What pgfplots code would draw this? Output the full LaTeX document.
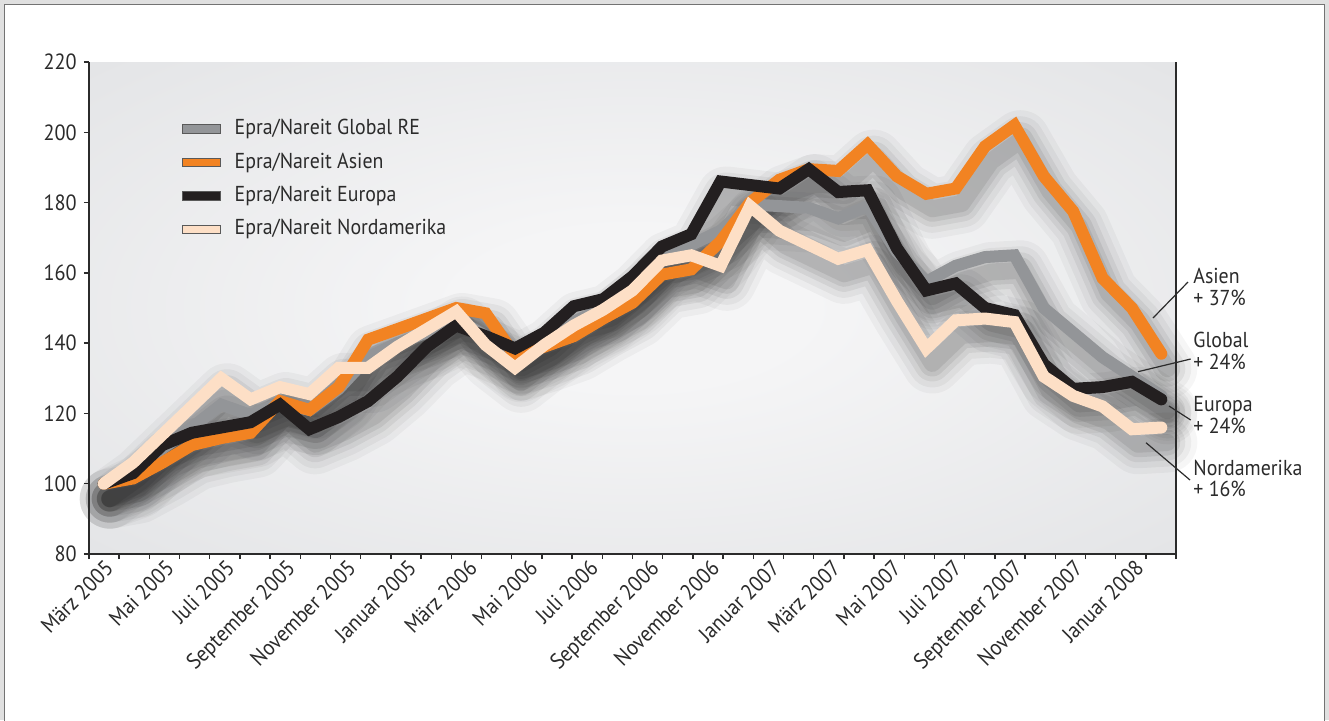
\documentclass[border=0pt]{standalone}
\usepackage{pgfplots}
\pgfplotsset{compat=1.18}
\usepackage{pgfplotstable}
\usepackage{fontspec}
\setmainfont{PT Sans}[FakeStretch=0.92]
\definecolor{cGlobal}{HTML}{939598}
\definecolor{cAsien}{HTML}{F28322}
\definecolor{cEuropa}{HTML}{231F20}
\definecolor{cNord}{HTML}{FDDFC6}
\definecolor{txt}{HTML}{2B2B2B}
\definecolor{bgin}{HTML}{F5F5F6}
\definecolor{bgmid}{HTML}{E4E5E7}
\definecolor{bgout}{HTML}{D8D9DB}
\pgfdeclareradialshading{bgshade}{\pgfpoint{0bp}{0bp}}{color(0bp)=(bgin); color(8bp)=(bgin); color(35bp)=(bgmid); color(55bp)=(bgout); color(75bp)=(bgout)}

% x = month index (0 = Maerz 2005), v = index value
\pgfplotstableread{
j v
0 100
1 104
2 110
3 116
4 122.5
5 119.5
6 123
7 121
8 127
9 136
10 140
11 143
12 147
13 142
14 136
15 140
16 146
17 150
18 157
19 164
20 168
21 172
22 179.5
23 179
24 178.5
25 175.5
26 179
27 166
28 157.5
29 162
30 164.5
31 165
32 150
33 143
34 136
35 130.5
36 125
}\tGlobal
\pgfplotstableread{
j v
0 100
1 101.5
2 106
3 111
4 113
5 114.5
6 123.5
7 121
8 127.5
9 141
10 144
11 147
12 150
13 148.5
14 136.5
15 139
16 142
17 147
18 151.5
19 159.5
20 161
21 169
22 180
23 186.5
24 189.5
25 189
26 196.5
27 187.5
28 182.5
29 184
30 196
31 202
32 187.5
33 177.5
34 158.5
35 150
36 137
}\tAsien
\pgfplotstableread{
j v
0 100
1 103
2 111
3 114.5
4 116
5 117.5
6 122.5
7 115.5
8 119
9 123.5
10 130.5
11 139
12 145
13 142
14 138.5
15 143
16 150.5
17 152.5
18 159
19 167.5
20 171
21 186
22 185
23 184
24 189.5
25 183
26 183.5
27 167
28 155
29 157
30 150
31 148
32 134
33 127
34 127.5
35 129
36 124
}\tEuropa
\pgfplotstableread{
j v
0 100
1 106
2 114
3 122
4 130
5 124
6 127.5
7 125.5
8 133
9 133
10 139
11 144
12 149
13 139.5
14 133
15 139.5
16 145
17 149.5
18 155
19 163.5
20 165
21 162
22 179
23 172
24 168
25 164
26 166.5
27 152
28 138.5
29 146.5
30 147
31 146
32 130.5
33 125
34 122
35 115.5
36 116
}\tNord

\pgfplotsset{
  shbase/.style={draw=black, xshift=3pt, yshift=-7.5pt, line cap=round, line join=round, forget plot},
  shA/.style={shbase, opacity=0.035, line width=30pt},
  shB/.style={shbase, opacity=0.045, line width=24pt},
  shC/.style={shbase, opacity=0.06, line width=18pt},
  shD/.style={shbase, opacity=0.07, line width=13pt},
  shE/.style={shbase, opacity=0.08, line width=8.5pt},
  mainline/.style={line width=6pt, line cap=round, line join=miter, miter limit=4},
}

\begin{document}
\begin{tikzpicture}
\begin{scope}[x=0.5pt,y=-0.5pt]
\path[use as bounding box] (0,0) rectangle (1329,720);
\fill[black!12] (0,0) rectangle (1329,720);
\filldraw[fill=white, draw=black!55, line width=0.75pt] (4.5,4.5) rectangle (1324.5,740);
\end{scope}
\begin{axis}[
  at={(44.5pt,-277pt)}, anchor=south west,
  scale only axis, width=543.5pt, height=246pt,
  xmin=-0.5, xmax=36.5, ymin=80, ymax=220,
  clip=false,
  axis line style={draw=none},
  axis background/.style={shade, shading=bgshade},
  tick pos=left, tick align=outside,
  major tick length=2.6pt,
  tick style={draw=txt, line width=0.7pt},
  ytick={80,100,...,220},
  xtick={-0.5,0.527777,...,36.51},
  xticklabels={},
  extra x ticks={0,2.0625,...,35.1},
  extra x tick labels={März 2005,Mai 2005,Juli 2005,September 2005,November 2005,Januar 2005,März 2006,Mai 2006,Juli 2006,September 2006,November 2006,Januar 2007,März 2007,Mai 2007,Juli 2007,September 2007,November 2007,Januar 2008},
  extra x tick style={major tick length=0pt, tick label style={rotate=45, anchor=north east, inner sep=1.5pt}},
  /pgf/number format/assume math mode=true,
  tick label style={font=\fontsize{11}{12}\selectfont, text=txt},
  legend style={at={(0.0853,0.7618)}, anchor=west, draw=none, fill=none,
    font=\fontsize{10.8}{12}\selectfont, text=txt, inner sep=0pt, outer sep=0pt,
    row sep=6.2pt, column sep=7pt,
    nodes={inner sep=0pt, text height=8pt, text depth=2.5pt}},
  legend cell align=left,
  legend image code/.code={\filldraw[#1, line width=0.5pt, draw=black!65, line join=miter] (0pt,-2.1pt) rectangle (19pt,2.1pt);},
]
% soft shadows
\addplot[shA] table[x=j,y=v] {\tGlobal};
\addplot[shA] table[x=j,y=v] {\tAsien};
\addplot[shA] table[x=j,y=v] {\tEuropa};
\addplot[shA] table[x=j,y=v] {\tNord};
\addplot[shB] table[x=j,y=v] {\tGlobal};
\addplot[shB] table[x=j,y=v] {\tAsien};
\addplot[shB] table[x=j,y=v] {\tEuropa};
\addplot[shB] table[x=j,y=v] {\tNord};
\addplot[shC] table[x=j,y=v] {\tGlobal};
\addplot[shC] table[x=j,y=v] {\tAsien};
\addplot[shC] table[x=j,y=v] {\tEuropa};
\addplot[shC] table[x=j,y=v] {\tNord};
\addplot[shD] table[x=j,y=v] {\tGlobal};
\addplot[shD] table[x=j,y=v] {\tAsien};
\addplot[shD] table[x=j,y=v] {\tEuropa};
\addplot[shD] table[x=j,y=v] {\tNord};
\addplot[shE] table[x=j,y=v] {\tGlobal};
\addplot[shE] table[x=j,y=v] {\tAsien};
\addplot[shE] table[x=j,y=v] {\tEuropa};
\addplot[shE] table[x=j,y=v] {\tNord};
% lines
\addplot[mainline, color=cGlobal] table[x=j,y=v] {\tGlobal};
\addlegendentry{Epra/Nareit Global RE}
\addplot[mainline, color=cAsien] table[x=j,y=v] {\tAsien};
\addlegendentry{Epra/Nareit Asien}
\addplot[mainline, color=cEuropa] table[x=j,y=v] {\tEuropa};
\addlegendentry{Epra/Nareit Europa}
\addplot[mainline, color=cNord] table[x=j,y=v] {\tNord};
\addlegendentry{Epra/Nareit Nordamerika}
% axis frame (left, bottom, right)
\draw[txt, line width=0.7pt] (rel axis cs:0,1) -- (rel axis cs:0,0) -- (rel axis cs:1,0) -- (rel axis cs:1,1);
\end{axis}
\begin{scope}[x=0.5pt,y=-0.5pt, every node/.style={font=\fontsize{10.8}{12}\selectfont, text=txt, anchor=base west, inner sep=0pt}]
\node at (1193,283) {Asien};
\node at (1193,305) {+ 37\%};
\node at (1193,347) {Global};
\node at (1193,369) {+ 24\%};
\node at (1193,411.7) {Europa};
\node at (1193,433) {+ 24\%};
\node at (1193,475) {Nordamerika};
\node at (1193,496.7) {+ 16\%};
\draw[txt, line width=0.6pt] (1153,318) -- (1188,282);
\draw[txt, line width=0.6pt] (1138,371.7) -- (1190.7,359);
\draw[txt, line width=0.6pt] (1169,406) -- (1190.7,420);
\draw[txt, line width=0.6pt] (1146,442.7) -- (1190,480);
\end{scope}
\end{tikzpicture}
\end{document}
